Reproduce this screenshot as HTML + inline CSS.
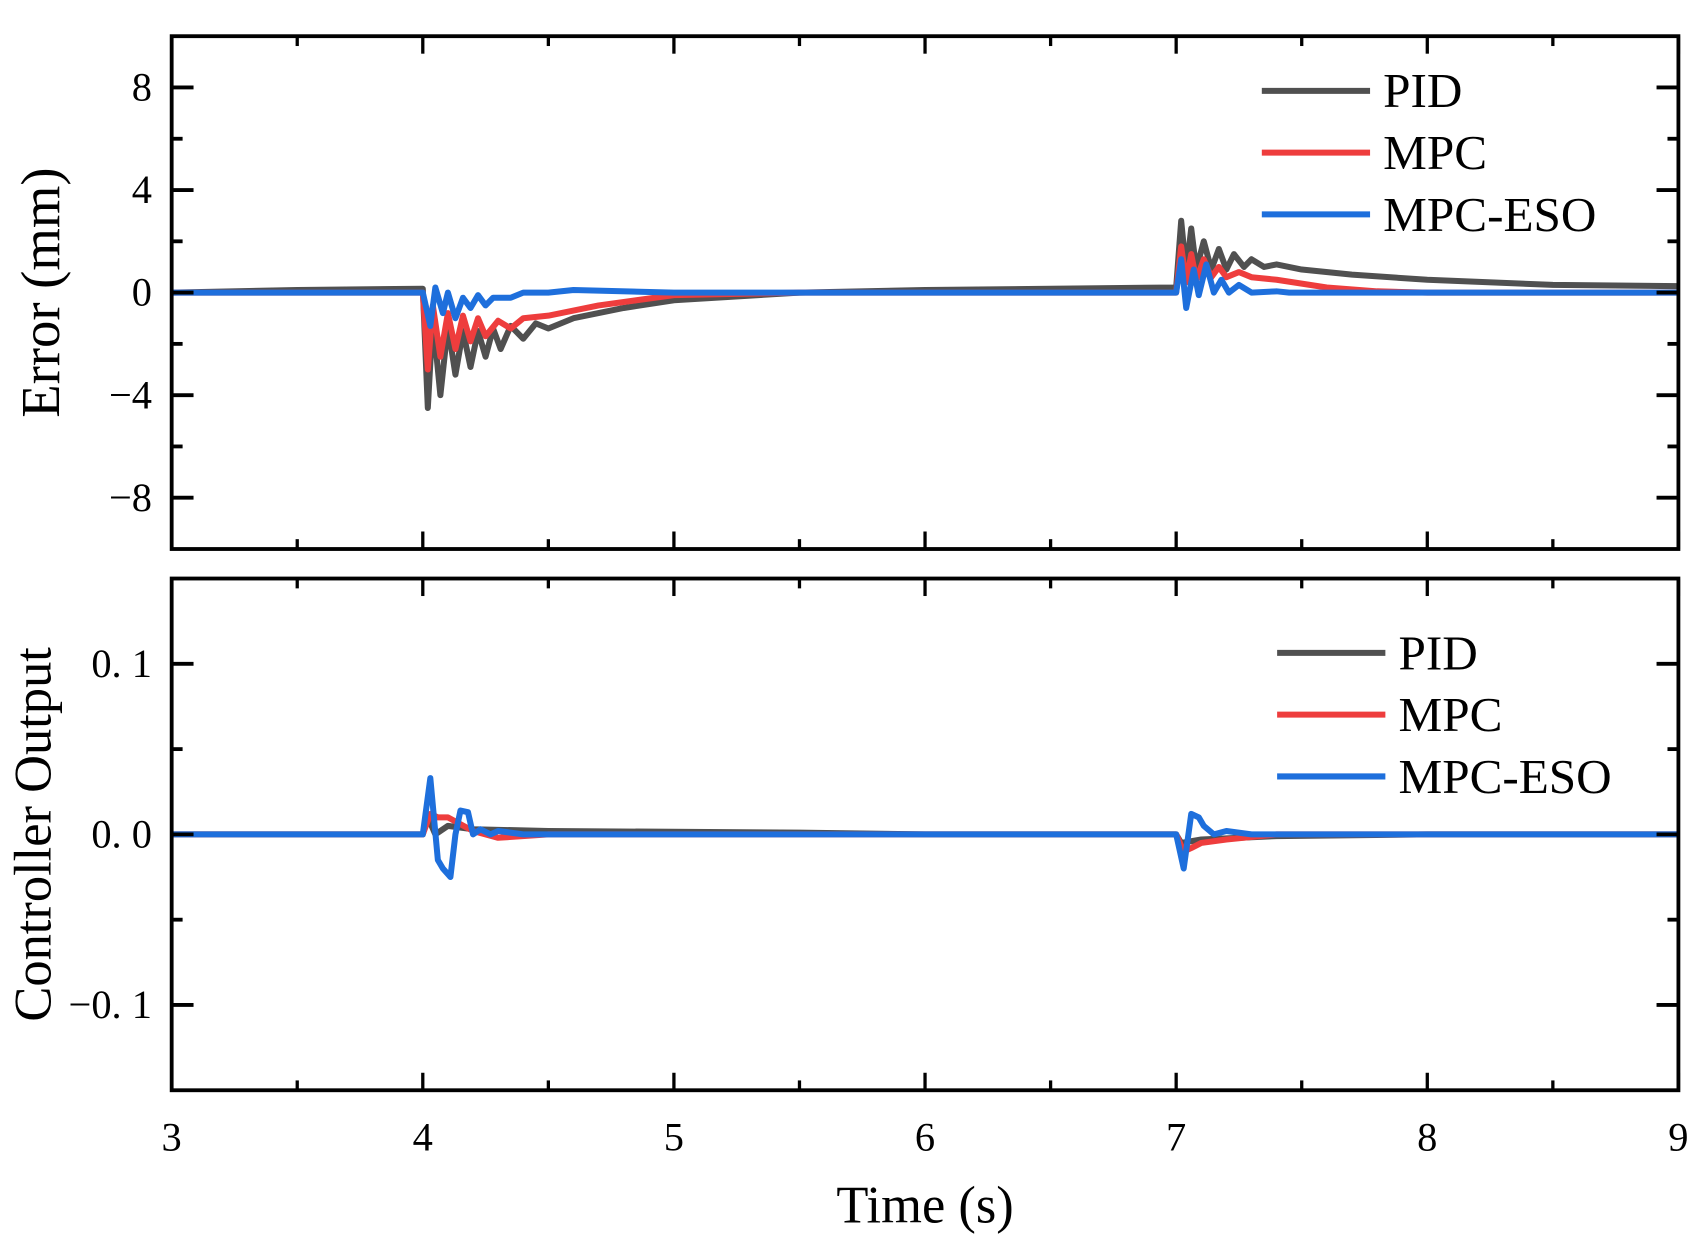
<!DOCTYPE html>
<html><head><meta charset="utf-8"><style>
html,body{margin:0;padding:0;background:#fff}
svg{display:block}
text{font-family:"Liberation Serif",serif;fill:#000}
</style></head><body>
<svg id="chart" width="1697" height="1250" viewBox="0 0 1552 1143" xmlns="http://www.w3.org/2000/svg">
<g id="gtop"></g>
<g id="gbot"></g>
</svg>
<script>
// ---- data ----
const pidErrT = [3,3.5,4.0,4.02,4.04,4.07,4.1,4.13,4.16,4.19,4.22,4.25,4.28,4.31,4.35,4.4,4.45,4.5,4.6,4.8,5.0,5.5,6,7.0,7.02,7.04,7.06,7.08,7.11,7.14,7.17,7.2,7.23,7.27,7.3,7.35,7.4,7.5,7.7,8,8.5,9];
const pidErrV = [0,0.1,0.15,-4.5,-1,-4,-1.3,-3.2,-1.5,-2.9,-1.5,-2.5,-1.4,-2.2,-1.3,-1.8,-1.2,-1.4,-1.0,-0.6,-0.3,0,0.1,0.2,2.8,0.8,2.5,0.9,2.0,0.9,1.7,0.9,1.5,1.0,1.3,1.0,1.1,0.9,0.7,0.5,0.3,0.25];
const mpcErrT = [3,4.0,4.02,4.04,4.07,4.1,4.13,4.16,4.19,4.22,4.25,4.3,4.35,4.4,4.5,4.7,5,5.5,7.0,7.02,7.04,7.06,7.08,7.11,7.14,7.17,7.2,7.25,7.3,7.4,7.6,7.8,8,9];
const mpcErrV = [0,0,-3,-0.5,-2.5,-0.8,-2.2,-0.9,-1.9,-1.0,-1.7,-1.1,-1.4,-1.0,-0.9,-0.5,-0.1,0,0,1.8,0.4,1.5,0.5,1.3,0.6,1.0,0.6,0.8,0.6,0.5,0.2,0.05,0,0];
const esoErrT = [3,4.0,4.03,4.05,4.08,4.1,4.13,4.16,4.19,4.22,4.25,4.28,4.35,4.4,4.5,4.6,5,7.0,7.02,7.04,7.07,7.09,7.12,7.15,7.18,7.21,7.25,7.3,7.4,7.45,9];
const esoErrV = [0,0,-1.3,0.2,-0.8,0,-1.0,-0.2,-0.6,-0.1,-0.5,-0.2,-0.2,0,0,0.1,0,0,1.3,-0.6,0.9,-0.1,1.1,0,0.5,0,0.3,0,0.05,0,0];
const pidOutT = [3,4.0,4.02,4.05,4.1,4.2,4.5,5.5,6,7.0,7.02,7.1,7.4,8,9];
const pidOutV = [0,0,0.01,0,0.005,0.003,0.002,0.001,0,0,-0.005,-0.003,-0.001,0,0];
const mpcOutT = [3,4.0,4.03,4.06,4.1,4.2,4.3,4.5,7.0,7.03,7.06,7.1,7.2,7.4,9];
const mpcOutV = [0,0,0.012,0.01,0.01,0.002,-0.002,0,0,-0.01,-0.008,-0.005,-0.003,0,0];
const esoOutT = [3,4.0,4.03,4.06,4.08,4.11,4.13,4.15,4.18,4.2,4.23,4.27,4.3,4.4,7.0,7.03,7.06,7.09,7.11,7.15,7.2,7.3,9];
const esoOutV = [0,0,0.033,-0.015,-0.02,-0.025,0,0.014,0.013,0,0.003,0,0.002,0,0,-0.02,0.012,0.01,0.005,0,0.002,0,0];
const xTicks = [3,4,5,6,7,8,9];
const topYTicks = [8,4,0,-4,-8];
const topYLabels = ["8","4","0","\u22124","\u22128"];
const botYTicks = [0.1,0,-0.1];
const botYLabels = ["0. 1","0. 0","\u22120. 1"];
const seriesNames = ["PID","MPC","MPC-ESO"];
const colors = ["#505050","#ee3d3d","#1e6fdc"];

// ---- layout ----
const NS="http://www.w3.org/2000/svg";
const X0=157,X1=1535;
const xs=t=>X0+(t-3)/6*(X1-X0);
function mk(parent,tag,attrs){const e=document.createElementNS(NS,tag);for(const k in attrs)e.setAttribute(k,attrs[k]);parent.appendChild(e);return e;}

function panel(g,Y0,Y1,ymin,ymax,yT,yL,minorStep,series,legY,legX,title,titleY,titleSize){
  const ys=v=>Y1-(v-ymin)/(ymax-ymin)*(Y1-Y0);
  series.forEach((s,i)=>{
    const p=mk(g,'polyline',{points:s[0].map((t,j)=>xs(t)+','+ys(s[1][j])).join(' '),fill:'none',stroke:colors[i],'stroke-width':5.5,'stroke-linejoin':'round'});
    
    
  });
  const f=mk(g,'rect',{x:X0,y:Y0,width:X1-X0,height:Y1-Y0,fill:'none',stroke:'#000','stroke-width':3.5});
  
  
  for(let t=3;t<=9.001;t+=0.5){
    const maj=Math.abs(t-Math.round(t))<1e-6, L=maj?16:9;
    mk(g,'line',{x1:xs(t),x2:xs(t),y1:Y0,y2:Y0+L,stroke:'#000','stroke-width':3});
    mk(g,'line',{x1:xs(t),x2:xs(t),y1:Y1,y2:Y1-L,stroke:'#000','stroke-width':3});
  }
  for(let v=ymin+minorStep;v<ymax-1e-9;v+=minorStep){
    const maj=yT.some(m=>Math.abs(m-v)<1e-9), L=maj?20:10;
    mk(g,'line',{x1:X0,x2:X0+L,y1:ys(v),y2:ys(v),stroke:'#000','stroke-width':3.5});
    mk(g,'line',{x1:X1,x2:X1-L,y1:ys(v),y2:ys(v),stroke:'#000','stroke-width':3.5});
  }
  yT.forEach((v,i)=>{
    const tx=mk(g,'text',{x:X0-18,y:ys(v)+12,'text-anchor':'end','font-size':37});
    tx.textContent=yL[i];
    
    
  });
  const tt=mk(g,'text',{x:0,y:0,'text-anchor':'middle','font-size':titleSize,transform:`translate(${titleY},${(Y0+Y1)/2}) rotate(-90)`});
  tt.textContent=title;
  
  
  seriesNames.forEach((n,i)=>{
    const y=legY+i*56.5;
    const ln=mk(g,'line',{x1:legX,x2:legX+99,y1:y,y2:y,stroke:colors[i],'stroke-width':5.5});
    
    
    const lt=mk(g,'text',{x:legX+111,y:y+15,'font-size':45});
    lt.textContent=n;
    
    
  });
}
const gTop=document.getElementById('gtop'), gBot=document.getElementById('gbot');
panel(gTop,33,502,-10,10,topYTicks,topYLabels,2,
  [[pidErrT,pidErrV],[mpcErrT,mpcErrV],[esoErrT,esoErrV]],83,1154,'Error (mm)',54,50);
panel(gBot,529,997,-0.15,0.15,botYTicks,botYLabels,0.05,
  [[pidOutT,pidOutV],[mpcOutT,mpcOutV],[esoOutT,esoOutV]],597,1168,'Controller Output',46,48);
xTicks.forEach(t=>{
  const tx=mk(gBot,'text',{x:xs(t),y:1052,'text-anchor':'middle','font-size':37});
  tx.textContent=String(t);
  
  
});
const xt=mk(gBot,'text',{x:846,y:1118,'text-anchor':'middle','font-size':48});
xt.textContent='Time (s)';


</script>
</body></html>
